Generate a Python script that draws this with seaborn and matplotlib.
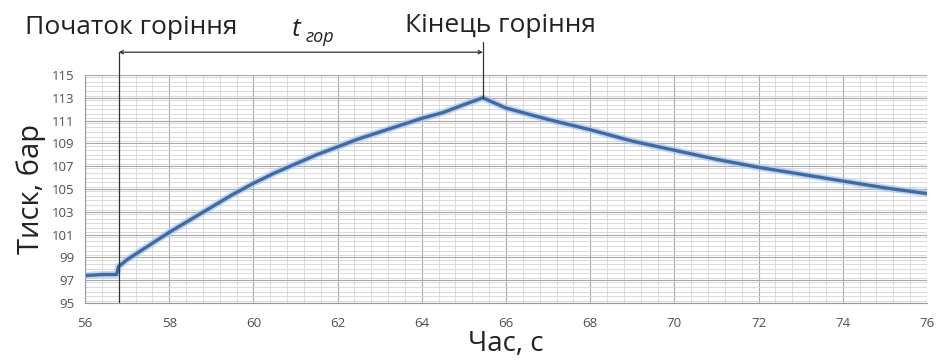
import matplotlib
matplotlib.use("Agg")
import matplotlib.pyplot as plt
import matplotlib.transforms as mtransforms
from matplotlib.ticker import MultipleLocator
import seaborn as sns
import pandas as pd

# pressure trace
time_s = [56.0, 56.4, 56.75, 56.8, 57.0, 57.5, 58.0, 58.5, 59.0, 59.5, 60.0,
          60.5, 61.0, 61.5, 62.0, 62.5, 63.0, 63.5, 64.0, 64.5, 65.0, 65.45,
          66.0, 66.5, 67.0, 68.0, 69.0, 70.0, 71.0, 72.0, 73.0, 74.0, 75.0, 76.0]
pressure_bar = [97.4, 97.5, 97.5, 98.2, 98.8, 100.0, 101.2, 102.3, 103.4, 104.5, 105.5,
                106.4, 107.2, 108.0, 108.7, 109.4, 110.0, 110.6, 111.2, 111.7, 112.4, 113.0,
                112.1, 111.6, 111.1, 110.2, 109.2, 108.4, 107.6, 106.9, 106.3, 105.7, 105.1, 104.6]

burn_start = 56.8
burn_end = 65.45
x_ticks = list(range(56, 77, 2))
y_ticks = list(range(95, 116, 2))

df = pd.DataFrame({"t": time_s, "p": pressure_bar})

sns.set_style("white")
plt.rcParams["font.family"] = ["Open Sans", "DejaVu Sans"]

fig = plt.figure(figsize=(9.4, 3.6), dpi=100)
ax = fig.add_axes([85 / 940, 1 - 303 / 360, (927 - 85) / 940, (303 - 75) / 360])

# halo + line, like the excel export
sns.lineplot(data=df, x="t", y="p", ax=ax, color="#a9c6ea", linewidth=5, alpha=0.7)
sns.lineplot(data=df, x="t", y="p", ax=ax, color="#3e6aa8", linewidth=2.4)

ax.set_xlim(56, 76)
ax.set_ylim(95, 115)
ax.set_xticks(x_ticks)
ax.set_yticks(y_ticks)
ax.xaxis.set_minor_locator(MultipleLocator(0.4))
ax.yaxis.set_minor_locator(MultipleLocator(0.4))
ax.grid(which="major", color="#a8a8a8", linewidth=0.8)
ax.grid(which="minor", color="#d4d4d4", linewidth=0.6)
ax.set_axisbelow(True)
for side in ["top", "right"]:
    ax.spines[side].set_visible(False)
for side in ["left", "bottom"]:
    ax.spines[side].set_color("#9a9a9a")
    ax.spines[side].set_linewidth(0.8)
ax.tick_params(which="major", length=4, color="#9a9a9a", labelsize=9.5, labelcolor="#505050", direction="out")
ax.tick_params(which="minor", length=0)
ax.tick_params(axis="x", pad=6)

ax.set_xlabel("Час, с", fontsize=20, color="#222222", labelpad=0)
ax.set_ylabel("Тиск, бар", fontsize=21, color="#222222", labelpad=4)

# burning interval markers
trans = mtransforms.blended_transform_factory(ax.transData, ax.transAxes)
ax.plot([burn_start, burn_start], [0, 1.10], transform=trans, color="#333333",
        linewidth=0.9, clip_on=False)
ax.plot([burn_end, burn_end], [(113 - 95) / 20, 1.145], transform=trans, color="#333333",
        linewidth=0.9, clip_on=False)
ax.annotate("", xy=(burn_start, 1.10), xytext=(burn_end, 1.10),
            xycoords=trans, textcoords=trans,
            arrowprops=dict(arrowstyle="<->", color="#333333", lw=0.9,
                            mutation_scale=6, shrinkA=0, shrinkB=0))

fig.text(25 / 940, 1 - 28 / 360, "Початок горіння", fontsize=19, color="#222222", va="center")
fig.text(292 / 940, 1 - 30 / 360, "t", fontsize=19, style="italic", color="#222222", va="center")
fig.text(306 / 940, 1 - 37 / 360, "гор", fontsize=13, style="italic", color="#222222", va="center")
fig.text(405 / 940, 1 - 25 / 360, "Кінець горіння", fontsize=19, color="#222222", va="center")

fig.savefig("out.png", dpi=100)
